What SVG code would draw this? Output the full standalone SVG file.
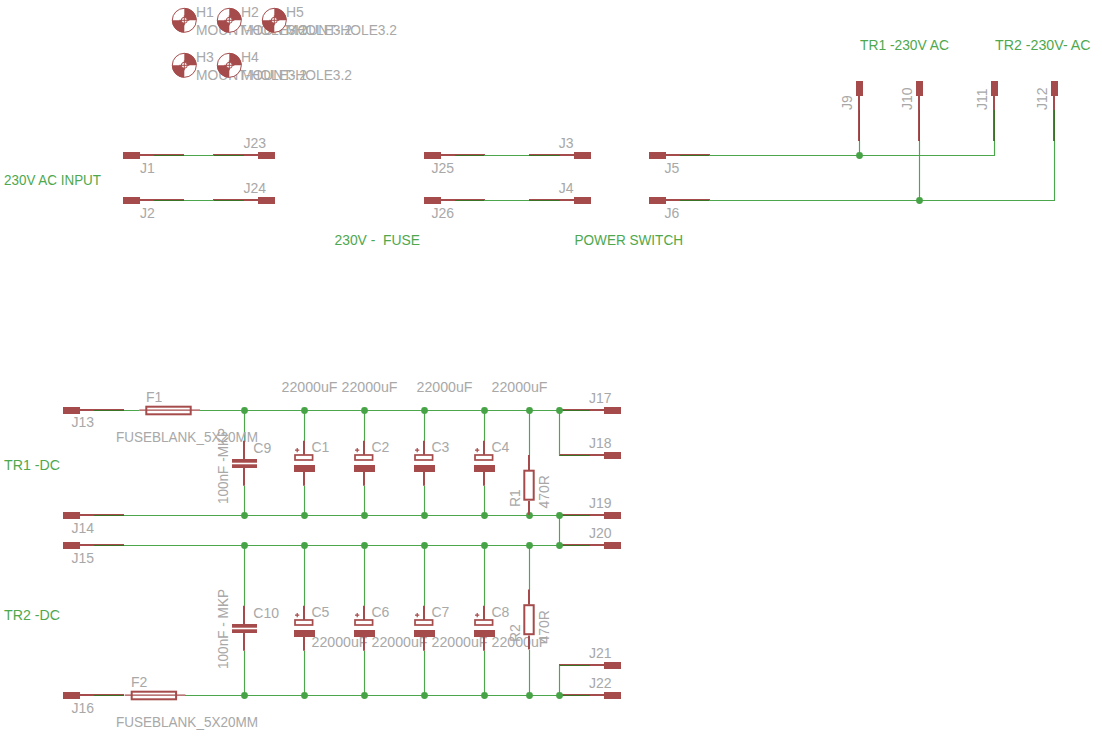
<svg xmlns="http://www.w3.org/2000/svg" width="1102" height="736" viewBox="0 0 1102 736">
<style>
text{font-family:"Liberation Sans",Arial,sans-serif;font-size:14px;fill:#a8a8a8}
text.g{fill:#4ea84e}
.w{stroke:#4ca64c;stroke-width:1.15;fill:none}
.j{fill:#46a346}
.p{fill:#a54b4b}
.l{stroke:#a54b4b;stroke-width:2;fill:none}
.b{stroke:#a54b4b;stroke-width:2;fill:none}
.c{stroke:#a54b4b;stroke-width:1.7;fill:#fff}
.d{stroke:#3a7326;stroke-width:1;fill:none}
</style>
<defs>
<g id="pinL"><rect class="p" x="0" y="-3.5" width="17" height="7"/><path class="l" d="M17 -0.5H61"/><path class="d" d="M31 0H61"/></g>
<g id="pinR"><rect class="p" x="0" y="-3.5" width="17" height="7"/><path class="l" d="M0 -0.5H-45"/><path class="d" d="M-14 0H-45"/></g>
<g id="pinU"><rect class="p" x="-3.5" y="0" width="7" height="15"/><path class="l" d="M-0.5 15V60"/><path class="d" d="M0 29V60"/></g>
<g id="cap"><path class="l" d="M-0.5 -19.3V-5M-0.5 12V25.7"/><rect class="c" x="-9.5" y="-5" width="17.6" height="5"/><rect class="p" x="-10.5" y="5" width="21" height="7"/><path d="M-9.5 -9.8H-5.2M-7.3 -12V-7.7" stroke="#a54b4b" stroke-width="1.2" fill="none"/></g>
<g id="film"><path class="l" d="M-0.5 -19.3V-1M-0.5 8V25.7"/><rect class="p" x="-12.5" y="-1" width="25" height="3.7"/><rect class="p" x="-12.5" y="4.3" width="25" height="3.7"/></g>
<g id="res"><path class="l" d="M-0.5 -15V0M-0.5 31V45"/><rect class="b" x="-5.2" y="0.7" width="9.4" height="29"/></g>
<g id="fuse"><path d="M-6 -0.3H54.7" stroke="#a54b4b" stroke-width="1.2" fill="none"/><rect class="b" x="1" y="-3.8" width="44.4" height="7.6"/></g>
<g id="hole"><circle r="12" fill="#fff" stroke="#a54b4b" stroke-width="1"/><path class="p" d="M0 0V-12.3A12.3 12.3 0 0 1 12.3 0ZM0 0V12.3A12.3 12.3 0 0 1 -12.3 0Z"/><circle r="3" fill="#fff" stroke="#a54b4b" stroke-width="1"/><path d="M-5 0H5M0 -5V5" stroke="#a54b4b" stroke-width="1"/></g>
</defs>
<g id="H1"><use href="#hole" x="184.3" y="20.3"/><text x="196" y="16.7">H1</text><text x="196" y="35" textLength="111" lengthAdjust="spacingAndGlyphs">MOUNT-HOLE3.2</text></g>
<g id="H2"><use href="#hole" x="229.3" y="20.3"/><text x="241" y="16.7">H2</text><text x="241" y="35" textLength="111" lengthAdjust="spacingAndGlyphs">MOUNT-HOLE3.2</text></g>
<g id="H5"><use href="#hole" x="274.3" y="20.3"/><text x="286" y="16.7">H5</text><text x="286" y="35" textLength="111" lengthAdjust="spacingAndGlyphs">MOUNT-HOLE3.2</text></g>
<g id="H3"><use href="#hole" x="184.3" y="65.3"/><text x="196" y="61.7">H3</text><text x="196" y="80" textLength="111" lengthAdjust="spacingAndGlyphs">MOUNT-HOLE3.2</text></g>
<g id="H4"><use href="#hole" x="229.3" y="65.3"/><text x="241" y="61.7">H4</text><text x="241" y="80" textLength="111" lengthAdjust="spacingAndGlyphs">MOUNT-HOLE3.2</text></g>
<g id="J1"><use href="#pinL" x="123" y="155.5"/><text x="140" y="172.5">J1</text></g>
<g id="J2"><use href="#pinL" x="123" y="200.5"/><text x="140" y="217.5">J2</text></g>
<g id="J23"><use href="#pinR" x="258" y="155.5"/><text x="243.5" y="148">J23</text></g>
<g id="J24"><use href="#pinR" x="258" y="200.5"/><text x="243.5" y="193">J24</text></g>
<g id="J25"><use href="#pinL" x="424" y="155.5"/><text x="431.5" y="172.7">J25</text></g>
<g id="J26"><use href="#pinL" x="424" y="200.5"/><text x="431.5" y="217.7">J26</text></g>
<g id="J3"><use href="#pinR" x="574" y="155.5"/><text x="558.7" y="147.7">J3</text></g>
<g id="J4"><use href="#pinR" x="574" y="200.5"/><text x="558.7" y="192.7">J4</text></g>
<g id="J5"><use href="#pinL" x="649" y="155.5"/><text x="664.5" y="172.7">J5</text></g>
<g id="J6"><use href="#pinL" x="649" y="200.5"/><text x="664.5" y="217.7">J6</text></g>
<g id="J9"><use href="#pinU" x="859.5" y="81"/><text transform="translate(851.7 110) rotate(-90)">J9</text></g>
<g id="J10"><use href="#pinU" x="919.5" y="81"/><text transform="translate(911.7 110) rotate(-90)">J10</text></g>
<g id="J11"><use href="#pinU" x="994.5" y="81"/><text transform="translate(986.7 110) rotate(-90)">J11</text></g>
<g id="J12"><use href="#pinU" x="1054.5" y="81"/><text transform="translate(1046.7 110) rotate(-90)">J12</text></g>
<g id="J13"><use href="#pinL" x="63" y="410.5"/><text x="71.5" y="427.3">J13</text></g>
<g id="J14"><use href="#pinL" x="63" y="515.5"/><text x="71.5" y="532.5">J14</text></g>
<g id="J15"><use href="#pinL" x="63" y="545.5"/><text x="71.5" y="562.5">J15</text></g>
<g id="J16"><use href="#pinL" x="63" y="695.5"/><text x="71.5" y="712.7">J16</text></g>
<g id="J17"><use href="#pinR" x="604" y="410.5"/><text x="589" y="402.7">J17</text></g>
<g id="J18"><use href="#pinR" x="604" y="455.5"/><text x="589" y="447.7">J18</text></g>
<g id="J19"><use href="#pinR" x="604" y="515.5"/><text x="589" y="507.7">J19</text></g>
<g id="J20"><use href="#pinR" x="604" y="545.5"/><text x="589" y="537.7">J20</text></g>
<g id="J21"><use href="#pinR" x="604" y="665.5"/><text x="589" y="657.7">J21</text></g>
<g id="J22"><use href="#pinR" x="604" y="695.5"/><text x="589" y="687.7">J22</text></g>
<g id="connectors">
<path class="w" d="M184 155.5H214M184 200.5H214M484 155.5H529M484 200.5H529M709 155.5H994.5V141M709 200.5H1054.5V141M859.5 141V155.5M919.5 141V200.5"/>
<path class="w" d="M124 410.5H139.3M200 410.5H559.5M124 515.5H559.5M124 545.5H559.5M185 695.5H559.5"/>
<path class="w" d="M244.5 410.5V441M244.5 486V515.5M304.5 410.5V441M304.5 486V515.5M364.5 410.5V441M364.5 486V515.5M424.5 410.5V441M424.5 486V515.5M484.5 410.5V441M484.5 486V515.5M529.5 410.5V455"/>
<path class="w" d="M244.5 545.5V606M244.5 651V695.5M304.5 545.5V606M304.5 651V695.5M364.5 545.5V606M364.5 651V695.5M424.5 545.5V606M424.5 651V695.5M484.5 545.5V606M484.5 651V695.5M529.5 545.5V590M529.5 650V695.5"/>
<path class="w" d="M559.5 410.5V455.5M559.5 515.5V545.5M559.5 665.5V695.5"/>
<g class="j">
<circle cx="859.5" cy="155.5" r="3.4"/><circle cx="919.5" cy="200.5" r="3.4"/>
<circle cx="244.5" cy="410.5" r="3.4"/><circle cx="304.5" cy="410.5" r="3.4"/><circle cx="364.5" cy="410.5" r="3.4"/><circle cx="424.5" cy="410.5" r="3.4"/><circle cx="484.5" cy="410.5" r="3.4"/><circle cx="529.5" cy="410.5" r="3.4"/><circle cx="559.5" cy="410.5" r="3.4"/>
<circle cx="244.5" cy="515.5" r="3.4"/><circle cx="304.5" cy="515.5" r="3.4"/><circle cx="364.5" cy="515.5" r="3.4"/><circle cx="424.5" cy="515.5" r="3.4"/><circle cx="484.5" cy="515.5" r="3.4"/><circle cx="529.5" cy="515.5" r="3.4"/><circle cx="559.5" cy="515.5" r="3.4"/>
<circle cx="244.5" cy="545.5" r="3.4"/><circle cx="304.5" cy="545.5" r="3.4"/><circle cx="364.5" cy="545.5" r="3.4"/><circle cx="424.5" cy="545.5" r="3.4"/><circle cx="484.5" cy="545.5" r="3.4"/><circle cx="529.5" cy="545.5" r="3.4"/><circle cx="559.5" cy="545.5" r="3.4"/>
<circle cx="244.5" cy="695.5" r="3.4"/><circle cx="304.5" cy="695.5" r="3.4"/><circle cx="364.5" cy="695.5" r="3.4"/><circle cx="424.5" cy="695.5" r="3.4"/><circle cx="484.5" cy="695.5" r="3.4"/><circle cx="529.5" cy="695.5" r="3.4"/><circle cx="559.5" cy="695.5" r="3.4"/>
</g>
</g>
<g id="F1"><use href="#fuse" x="145.3" y="410.5"/><text x="146" y="401.7">F1</text><text x="116" y="441.7" textLength="142" lengthAdjust="spacingAndGlyphs">FUSEBLANK_5X20MM</text></g>
<g id="F2"><use href="#fuse" x="130.7" y="695.5"/><text x="131" y="686.7">F2</text><text x="116" y="726.7" textLength="142" lengthAdjust="spacingAndGlyphs">FUSEBLANK_5X20MM</text></g>
<g id="C9"><use href="#film" x="244.5" y="460"/><text x="253.3" y="452.7">C9</text><text transform="translate(228 504) rotate(-90)" textLength="76" lengthAdjust="spacingAndGlyphs">100nF -MKP</text></g>
<g id="C10"><use href="#film" x="244.5" y="625"/><text x="253.3" y="617.7">C10</text><text transform="translate(227.5 669) rotate(-90)" textLength="80" lengthAdjust="spacingAndGlyphs">100nF - MKP</text></g>
<g id="C1"><use href="#cap" x="304.5" y="460"/><text x="311.5" y="452.3">C1</text><text x="281.5" y="392.3" textLength="56" lengthAdjust="spacingAndGlyphs">22000uF</text></g>
<g id="C2"><use href="#cap" x="364.5" y="460"/><text x="371.5" y="452.3">C2</text><text x="341.5" y="392.3" textLength="56" lengthAdjust="spacingAndGlyphs">22000uF</text></g>
<g id="C3"><use href="#cap" x="424.5" y="460"/><text x="431.5" y="452.3">C3</text><text x="416.5" y="392.3" textLength="56" lengthAdjust="spacingAndGlyphs">22000uF</text></g>
<g id="C4"><use href="#cap" x="484.5" y="460"/><text x="491.5" y="452.3">C4</text><text x="491.5" y="392.3" textLength="56" lengthAdjust="spacingAndGlyphs">22000uF</text></g>
<g id="C5"><use href="#cap" x="304.5" y="625"/><text x="311.5" y="616.7">C5</text><text x="311.5" y="646.7" textLength="56" lengthAdjust="spacingAndGlyphs">22000uF</text></g>
<g id="C6"><use href="#cap" x="364.5" y="625"/><text x="371.5" y="616.7">C6</text><text x="371.5" y="646.7" textLength="56" lengthAdjust="spacingAndGlyphs">22000uF</text></g>
<g id="C7"><use href="#cap" x="424.5" y="625"/><text x="431.5" y="616.7">C7</text><text x="431.5" y="646.7" textLength="56" lengthAdjust="spacingAndGlyphs">22000uF</text></g>
<g id="C8"><use href="#cap" x="484.5" y="625"/><text x="491.5" y="616.7">C8</text><text x="491.5" y="646.7" textLength="56" lengthAdjust="spacingAndGlyphs">22000uF</text></g>
<g id="R1"><use href="#res" x="529.5" y="470"/><text transform="translate(520 507) rotate(-90)">R1</text><text transform="translate(549.3 508.5) rotate(-90)">470R</text></g>
<g id="R2"><use href="#res" x="529.5" y="604.5"/><text transform="translate(520 642) rotate(-90)">R2</text><text transform="translate(549.3 643.5) rotate(-90)">470R</text></g>
<g id="labels">
<text class="g" x="4" y="185" textLength="97" lengthAdjust="spacingAndGlyphs">230V AC INPUT</text>
<text class="g" x="334.5" y="245" textLength="85.5" lengthAdjust="spacingAndGlyphs" xml:space="preserve">230V -  FUSE</text>
<text class="g" x="574.5" y="245" textLength="108.5" lengthAdjust="spacingAndGlyphs">POWER SWITCH</text>
<text class="g" x="860" y="50" textLength="89" lengthAdjust="spacingAndGlyphs">TR1 -230V AC</text>
<text class="g" x="995" y="50" textLength="95.5" lengthAdjust="spacingAndGlyphs">TR2 -230V- AC</text>
<text class="g" x="4" y="470" textLength="56" lengthAdjust="spacingAndGlyphs">TR1 -DC</text>
<text class="g" x="4" y="620" textLength="56" lengthAdjust="spacingAndGlyphs">TR2 -DC</text>
</g>
</svg>
